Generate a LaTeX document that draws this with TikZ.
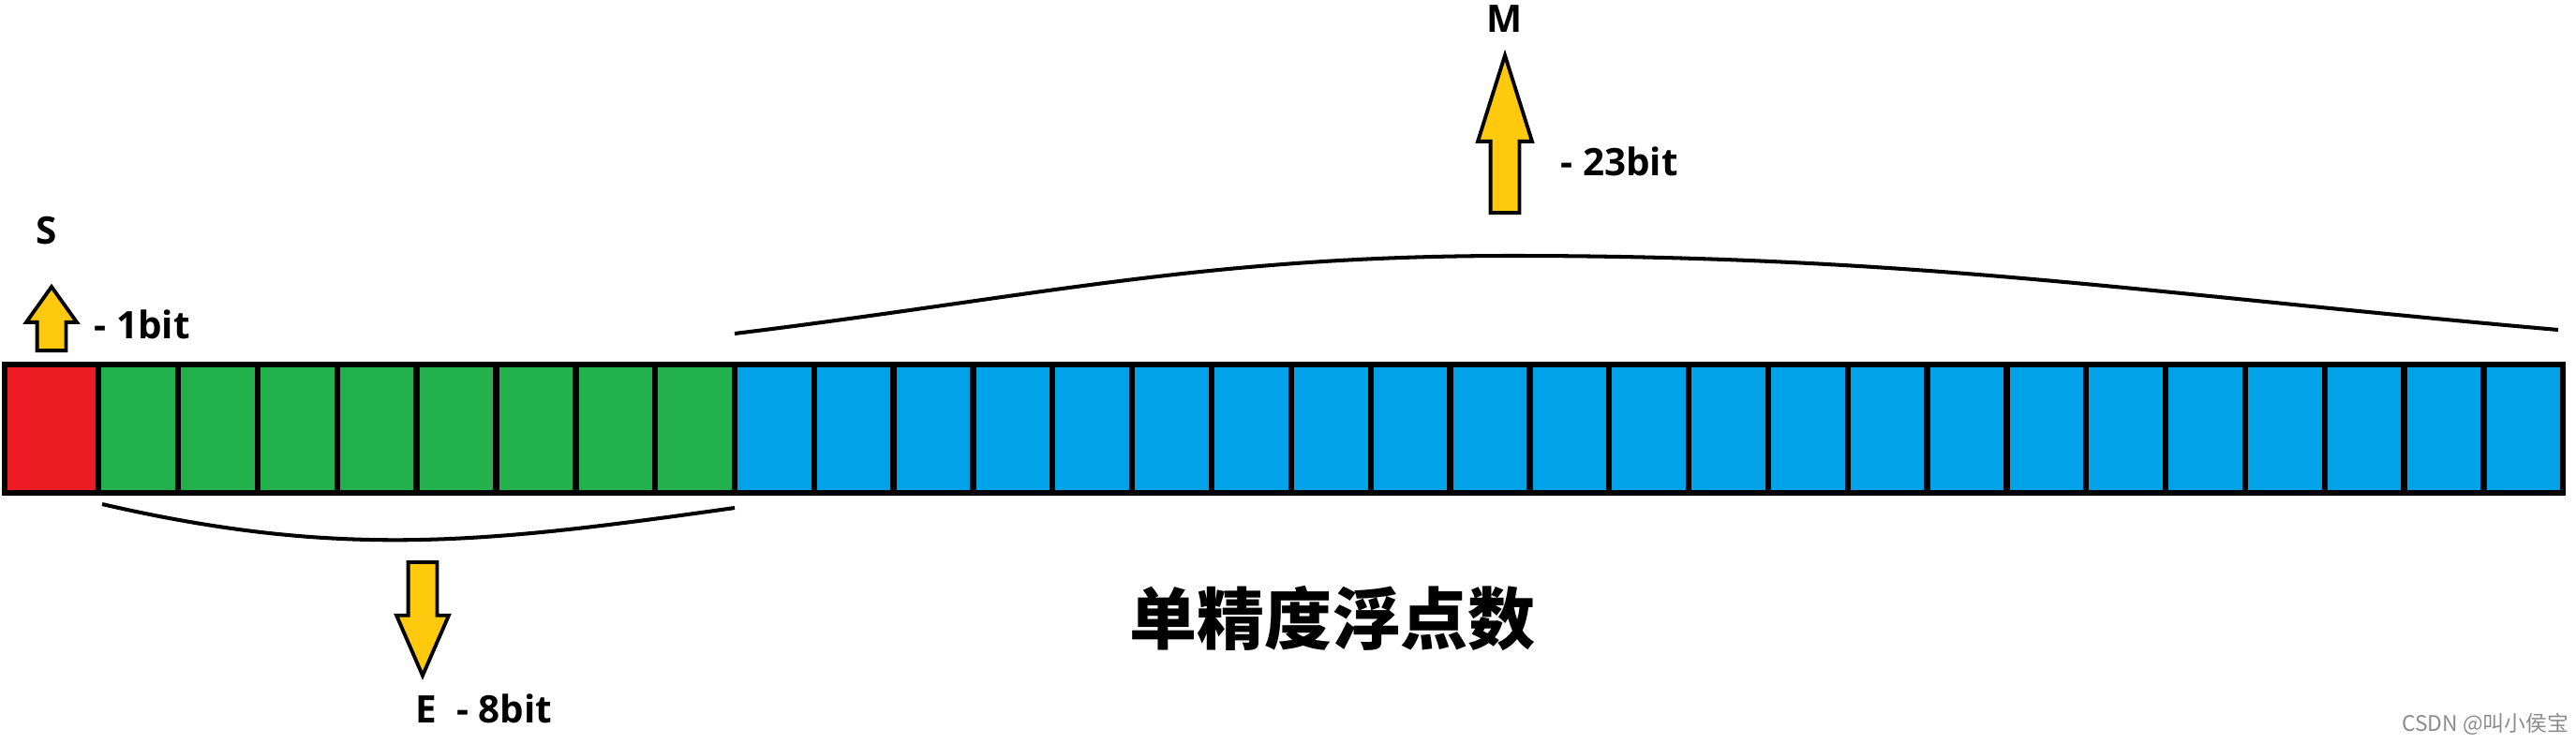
\documentclass[tikz,border=0pt]{standalone}
\usepackage{fontspec}
\setmainfont{Open Sans}
\newfontfamily\cjk{Noto Sans CJK SC}
\usepackage{xcolor}
\usetikzlibrary{shapes.arrows, positioning}
\pgfdeclarelayer{edgelayer}
\pgfdeclarelayer{nodelayer}
\pgfsetlayers{nodelayer,main,edgelayer}

\definecolor{signred}{HTML}{ED1C24}
\definecolor{expgreen}{HTML}{22B14C}
\definecolor{manblue}{HTML}{00A2E8}
\definecolor{arrowyellow}{HTML}{FFC90E}

\tikzset{
	cell/.style={draw, line width=1.8pt, minimum height=1.37cm, inner sep=0pt},
	signcell/.style={cell, fill=signred, minimum width=1cm},
	expcell/.style={cell, fill=expgreen, minimum width=0.849cm},
	mancell/.style={cell, fill=manblue, minimum width=0.8483cm},
	blockarrow/.style={single arrow, draw, line width=1.1pt, fill=arrowyellow, inner xsep=0pt, inner ysep=0.135cm, anchor=tail},
	bitlabel/.style={font=\fontsize{11.5}{13}\selectfont\bfseries, inner sep=0pt},
	titlelabel/.style={font=\cjk\fontsize{20.5}{24}\selectfont\bfseries, inner sep=0pt},
	marklabel/.style={font=\cjk\fontsize{6.5}{8}\selectfont, text=black!45, inner sep=0pt},
	bendline/.style={line width=1.15pt}
}

\begin{document}
\begin{tikzpicture}
	\useasboundingbox (0,0) rectangle (27.49,7.93);
	\begin{pgfonlayer}{nodelayer}
		\node [signcell] (0) at (0.55, 3.355) {};
		\node [expcell] (1) at (1.4745, 3.355) {};
		\node [expcell] (2) at (2.3235, 3.355) {};
		\node [expcell] (3) at (3.1725, 3.355) {};
		\node [expcell] (4) at (4.0215, 3.355) {};
		\node [expcell] (5) at (4.8705, 3.355) {};
		\node [expcell] (6) at (5.7195, 3.355) {};
		\node [expcell] (7) at (6.5685, 3.355) {};
		\node [expcell] (8) at (7.4175, 3.355) {};
		\node [mancell] (9) at (8.264, 3.355) {};
		\node [mancell] (10) at (9.112, 3.355) {};
		\node [mancell] (11) at (9.961, 3.355) {};
		\node [mancell] (12) at (10.809, 3.355) {};
		\node [mancell] (13) at (11.657, 3.355) {};
		\node [mancell] (14) at (12.506, 3.355) {};
		\node [mancell] (15) at (13.354, 3.355) {};
		\node [mancell] (16) at (14.203, 3.355) {};
		\node [mancell] (17) at (15.051, 3.355) {};
		\node [mancell] (18) at (15.899, 3.355) {};
		\node [mancell] (19) at (16.748, 3.355) {};
		\node [mancell] (20) at (17.596, 3.355) {};
		\node [mancell] (21) at (18.444, 3.355) {};
		\node [mancell] (22) at (19.293, 3.355) {};
		\node [mancell] (23) at (20.141, 3.355) {};
		\node [mancell] (24) at (20.990, 3.355) {};
		\node [mancell] (25) at (21.838, 3.355) {};
		\node [mancell] (26) at (22.686, 3.355) {};
		\node [mancell] (27) at (23.535, 3.355) {};
		\node [mancell] (28) at (24.383, 3.355) {};
		\node [mancell] (29) at (25.231, 3.355) {};
		\node [mancell] (30) at (26.080, 3.355) {};
		\node [mancell] (31) at (26.928, 3.355) {};
		\node [blockarrow, rotate=90, minimum height=0.68cm, minimum width=0.5cm, single arrow head extend=0.115cm, single arrow tip angle=71] (32) at (0.55, 4.17) {};
		\node [blockarrow, rotate=-90, minimum height=1.21cm, minimum width=0.53cm, single arrow head extend=0.125cm, single arrow tip angle=47] (33) at (4.51, 1.95) {};
		\node [blockarrow, rotate=90, minimum height=1.68cm, minimum width=0.54cm, single arrow head extend=0.135cm, single arrow tip angle=35] (34) at (16.06, 5.64) {};
		\node [bitlabel] (35) at (0.50, 5.47) {S};
		\node [bitlabel, anchor=west] (36) at (1.00, 4.47) {- 1bit};
		\node [bitlabel, anchor=west] (37) at (4.43, 0.37) {E\ \ - 8bit};
		\node [bitlabel] (38) at (16.06, 7.73) {M};
		\node [bitlabel, anchor=west] (39) at (16.65, 6.21) {- 23bit};
		\node [titlelabel] (40) at (14.22, 1.33) {单精度浮点数};
		\node [marklabel] (41) at (26.52, 0.20) {CSDN @叫小侯宝};
		\coordinate (42) at (1.09, 2.55);
		\coordinate (43) at (7.84, 2.51);
		\coordinate (44) at (7.84, 4.37);
		\coordinate (45) at (16.13, 5.20);
		\coordinate (46) at (27.30, 4.41);
	\end{pgfonlayer}
	\begin{pgfonlayer}{edgelayer}
		\draw [bendline, out=-13, in=188, looseness=1.00] (42) to (43);
		\draw [bendline, out=7, in=180, looseness=1.00] (44) to (45);
		\draw [bendline, out=0, in=175, looseness=1.00] (45) to (46);
	\end{pgfonlayer}
\end{tikzpicture}
\end{document}
